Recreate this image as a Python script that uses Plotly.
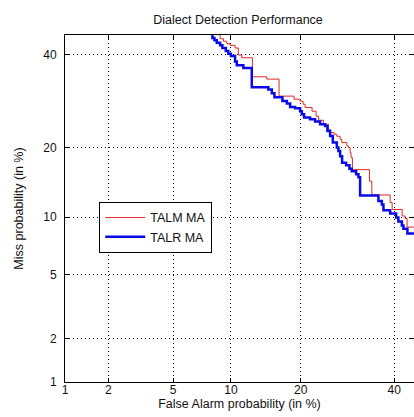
import plotly.graph_objects as go
from statistics import NormalDist

# ---- data (percent) ----
talm_fa = [8.86, 9.20, 9.55, 9.91, 10.47, 10.85, 11.25, 12.59, 14.56, 16.40, 18.85, 19.89,
           20.42, 20.78, 22.06, 22.82, 23.30, 24.24, 25.23, 25.57, 26.39, 26.95, 27.64,
           28.00, 29.07, 29.42, 29.79, 30.00, 30.29, 34.13, 34.69, 39.03, 39.51, 41.96,
           42.70, 43.19, 46.0]
talm_miss = [47.0, 43.97, 43.33, 42.73, 42.33, 41.66, 39.93, 39.27, 34.72, 34.18, 30.31, 29.64,
             29.20, 28.55, 27.85, 27.06, 26.02, 25.20, 24.40, 23.41, 22.77, 22.45, 22.07,
             21.51, 20.90, 20.30, 20.00, 19.12, 18.27, 16.33, 14.60, 12.68, 11.72, 10.87,
             10.12, 9.84, 8.93]

talr_fa = [8.11, 8.30, 8.53, 8.86, 9.09, 9.45, 9.72, 10.00, 10.47, 10.67, 11.45, 12.51,
           14.79, 15.30, 15.69, 16.93, 17.64, 18.18, 19.02, 19.89, 20.19, 20.60, 21.69,
           22.63, 23.59, 24.57, 25.03, 25.57, 26.12, 26.95, 27.29, 27.64, 28.06, 28.92,
           29.64, 30.15, 31.11, 31.63, 32.00, 36.23, 37.04, 37.42, 39.03, 40.49, 41.04,
           41.89, 42.28, 43.26, 46.0]
talr_miss = [47.0, 44.15, 43.57, 42.97, 42.33, 41.66, 40.92, 40.25, 39.68, 38.38, 37.43, 36.78,
             32.33, 31.81, 30.97, 30.08, 29.27, 28.70, 27.97, 27.70, 27.06, 26.43, 25.75,
             25.40, 24.94, 24.40, 24.06, 23.08, 22.13, 20.90, 20.00, 19.40, 18.49, 17.44,
             17.01, 16.48, 16.06, 15.60, 15.15, 12.62, 11.89, 11.47, 10.79, 10.40, 9.95,
             9.51, 9.09, 8.75, 8.29]

tick_vals = [1, 2, 5, 10, 20, 40]
tick_text = ["1", "2", "5", "10", "20", "40"]
axis_min, axis_max = 1, 44.9

nd = NormalDist()


def probit(values):
    return [nd.inv_cdf(v / 100.0) for v in values]


FONT = "Liberation Sans, Arial, sans-serif"

fig = go.Figure()
fig.add_trace(go.Scatter(x=probit(talm_fa), y=probit(talm_miss), mode="lines",
                         line=dict(color="#e02828", width=1, shape="vh"), name="TALM MA"))
fig.add_trace(go.Scatter(x=probit(talr_fa), y=probit(talr_miss), mode="lines",
                         line=dict(color="#0a0ae6", width=2.5, shape="vh"), name="TALR MA"))

axis_common = dict(
    tickmode="array", tickvals=probit(tick_vals), ticktext=tick_text,
    range=probit([axis_min, axis_max]),
    showgrid=True, gridcolor="#000000", gridwidth=1, griddash="1px,3px",
    showline=True, linecolor="#000000", linewidth=1, mirror="ticks",
    ticks="inside", ticklen=4, tickcolor="#000000",
    tickfont=dict(family=FONT, size=12, color="#111111"),
    zeroline=False,
)

fig.update_layout(
    width=414, height=417,
    margin=dict(l=65, r=0, t=35, b=35, autoexpand=False),
    paper_bgcolor="white", plot_bgcolor="white",
    title=dict(text="Dialect Detection Performance", x=0.575, xanchor="center",
               y=0.952, yanchor="middle",
               font=dict(family=FONT, size=12.5, color="#111111")),
    xaxis=dict(**axis_common, ticklabelstandoff=-3,
               title=dict(text="False Alarm probability (in %)", standoff=0,
                          font=dict(family=FONT, size=12.5, color="#111111"))),
    yaxis=dict(**axis_common, ticklabelstandoff=5,
               title=dict(text="Miss probability (in %)", standoff=16,
                          font=dict(family=FONT, size=12.5, color="#111111"))),
    legend=dict(x=0.098, y=0.519, xanchor="left", yanchor="top",
                bgcolor="white", bordercolor="#000000", borderwidth=1,
                font=dict(family=FONT, size=12.5, color="#111111"),
                itemwidth=40, tracegroupgap=0),
    showlegend=True,
)

fig.write_html("out.html", config={"displayModeBar": False},
               post_script="document.body.style.margin='0';")
